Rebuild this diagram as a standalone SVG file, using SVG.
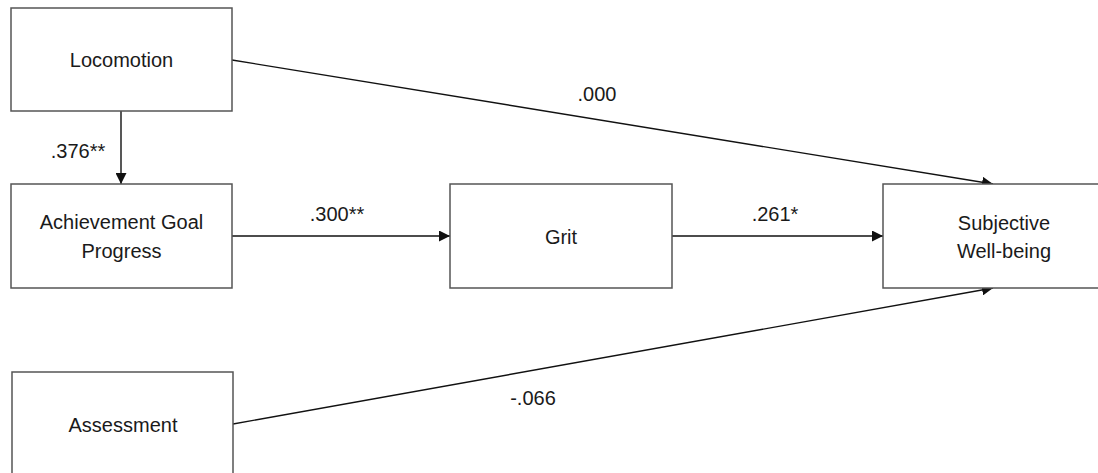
<svg xmlns="http://www.w3.org/2000/svg" width="1098" height="473" viewBox="0 0 1098 473">
<style>
.box{fill:#fff;stroke:#555;stroke-width:1.5}
.t{font-family:"Liberation Sans",Arial,sans-serif;font-size:20px;fill:#1a1a1a;text-anchor:middle}
.e{stroke:#111;stroke-width:1.4;fill:none;marker-end:url(#ah)}
</style>
<defs>
<marker id="ah" viewBox="0 0 10 10" refX="10" refY="5" markerWidth="11" markerHeight="11" markerUnits="userSpaceOnUse" orient="auto">
<path d="M0,0 L10,5 L0,10 z" fill="#111"/>
</marker>
</defs>
<rect width="1098" height="473" fill="#fff"/>
<g id="edges">
<line class="e" x1="232" y1="60" x2="993" y2="184"/>
<line class="e" x1="121" y1="111" x2="121" y2="184"/>
<line class="e" x1="232" y1="236" x2="450" y2="236"/>
<line class="e" x1="672" y1="236" x2="883" y2="236"/>
<line class="e" x1="233" y1="424" x2="993" y2="288"/>
<text class="t" x="597" y="101">.000</text>
<text class="t" x="78" y="158">.376**</text>
<text class="t" x="337" y="221">.300**</text>
<text class="t" x="775" y="221">.261*</text>
<text class="t" x="533" y="405">-.066</text>
</g>
<g id="locomotion">
<rect class="box" x="11" y="8" width="221" height="103"/>
<text class="t" x="121.5" y="67">Locomotion</text>
</g>
<g id="achievement">
<rect class="box" x="11" y="184" width="221" height="104"/>
<text class="t" x="121.5" y="229">Achievement Goal</text>
<text class="t" x="121.5" y="258">Progress</text>
</g>
<g id="grit">
<rect class="box" x="450" y="184" width="222" height="104"/>
<text class="t" x="561" y="244">Grit</text>
</g>
<g id="swb">
<rect class="box" x="883" y="184" width="230" height="104"/>
<text class="t" x="1004" y="230">Subjective</text>
<text class="t" x="1004" y="258">Well-being</text>
</g>
<g id="assessment">
<rect class="box" x="12" y="372" width="221" height="120"/>
<text class="t" x="123" y="432">Assessment</text>
</g>
</svg>
